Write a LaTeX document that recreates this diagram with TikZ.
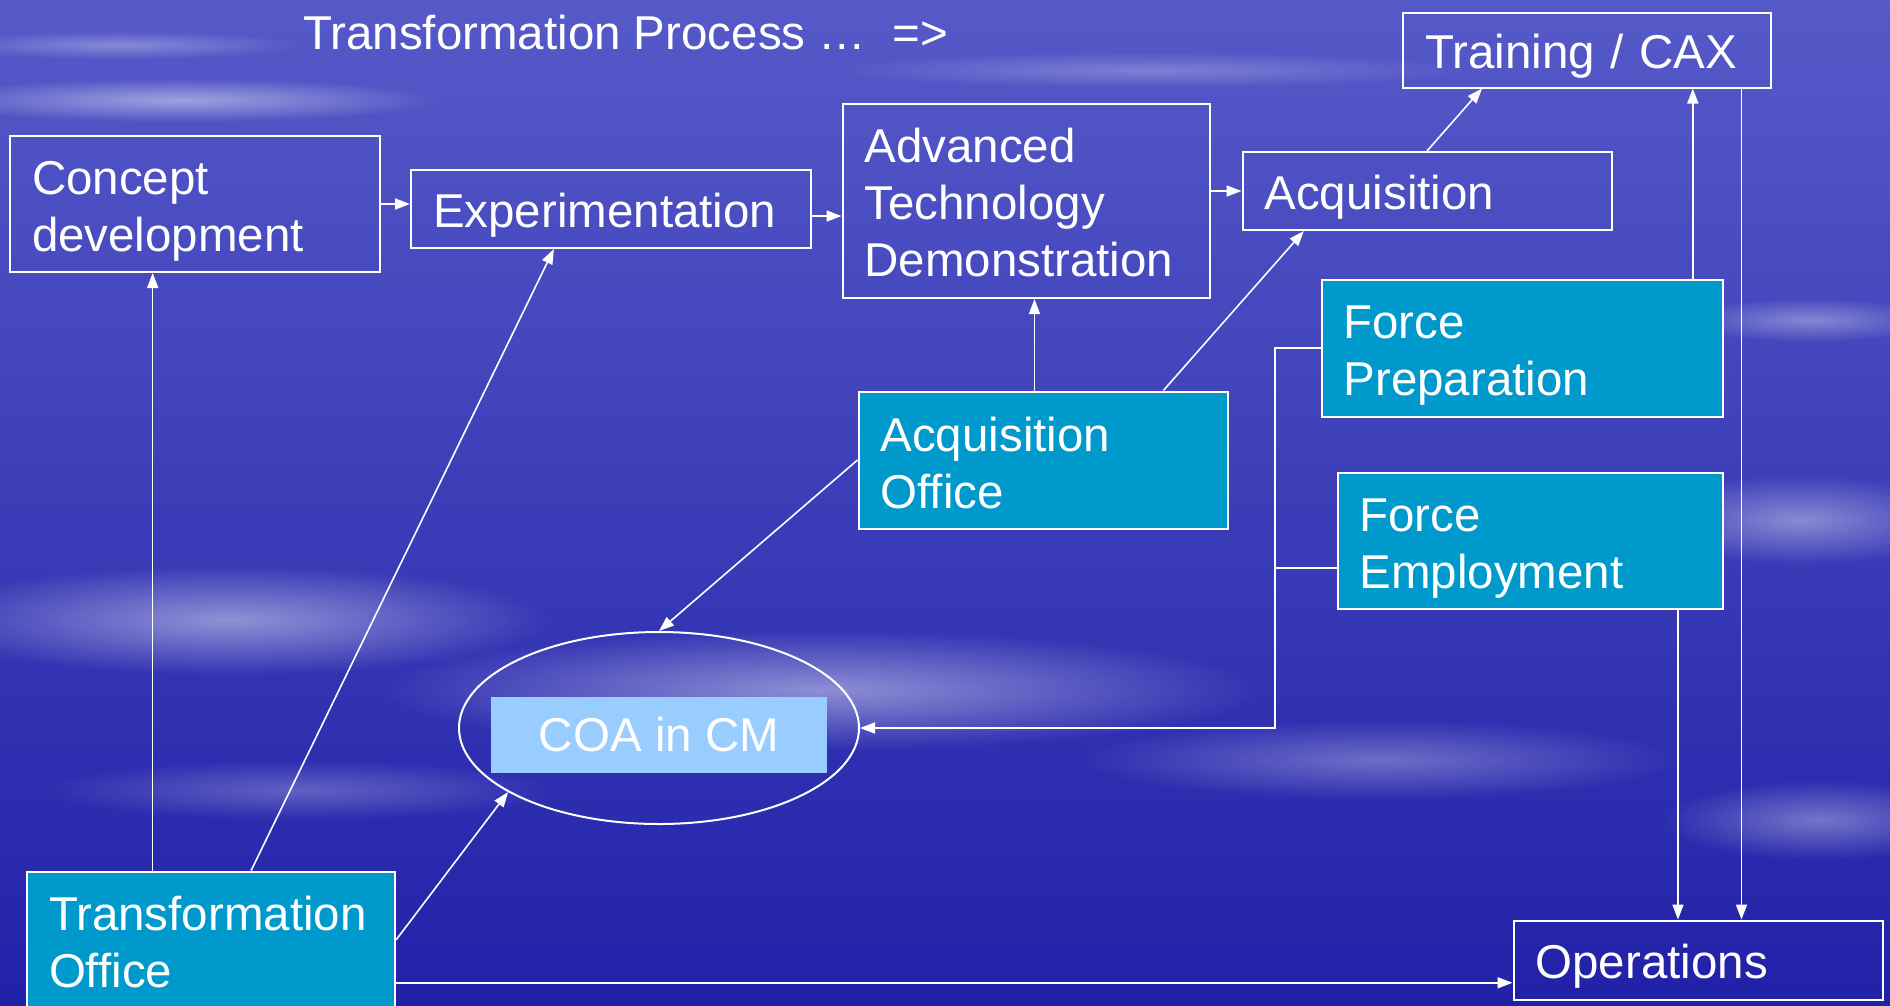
\documentclass[tikz,border=0pt]{standalone}
\usepackage{fontspec}
\setmainfont{Liberation Sans}
\usepackage{xcolor}
\usetikzlibrary{shapes.geometric}
\usetikzlibrary{arrows.meta,calc,fadings}

\definecolor{skytop}{RGB}{86,90,200}
\definecolor{skybottom}{RGB}{33,33,168}
\definecolor{officecyan}{RGB}{0,153,204}
\definecolor{coablue}{RGB}{153,204,255}

\tikzfading[name=softblob, inner color=transparent!0, outer color=transparent!100]

\newcommand{\boxfont}{\fontsize{47.5}{57}\selectfont}

\begin{document}
\begin{tikzpicture} [
       x=1pt, y=-1pt,
       auto,
       box/.style={draw=white, line width=2pt, text=white, align=left,
               inner xsep=22pt, inner ysep=0pt, font=\boxfont,
               text height=47pt},
       office/.style={box, fill=officecyan},
       ring/.style={ellipse, draw=white, line width=2pt, inner sep=0pt},
       coabox/.style={fill=coablue, text=white, font=\boxfont,
               minimum width=336pt, minimum height=76pt},
       cloud/.style={fill=white, path fading=softblob},
        line/.style     = { draw, white, line width=1.6pt,
               -{Triangle[length=15pt,width=11pt]} },
       ]
       % sky
       \useasboundingbox (0,0) rectangle (1890,1005);
       \shade[top color=skytop, bottom color=skybottom] (0,0) rectangle (1890,1005);
       \fill[cloud, opacity=.45] (180,100) ellipse (260 and 22);
       \fill[cloud, opacity=.3] (120,45) ellipse (180 and 14);
       \fill[cloud, opacity=.25] (1150,70) ellipse (320 and 18);
       \fill[cloud, opacity=.35] (1810,320) ellipse (130 and 22);
       \fill[cloud, opacity=.4] (1800,520) ellipse (170 and 45);
       \fill[cloud, opacity=.45] (230,620) ellipse (320 and 55);
       \fill[cloud, opacity=.45] (820,690) ellipse (440 and 60);
       \fill[cloud, opacity=.3] (1380,760) ellipse (300 and 40);
       \fill[cloud, opacity=.35] (1820,820) ellipse (160 and 40);
       \fill[cloud, opacity=.25] (300,790) ellipse (260 and 30);

       \node (title) [anchor=base west, text=white, font=\boxfont, inner sep=0pt]
               at (303,49) {Transformation Process …\ \ =>};

       \node (concept) [box, text width=326pt, minimum height=136pt] at (195,204) {Concept\\development};
       \node (exper) [box, text width=356pt, minimum height=78pt] at (611,209) {Experimentation};
       \node (atd) [box, text width=323pt, minimum height=194pt, text height=37pt] at (1026,201) {Advanced\\Technology\\Demonstration};
       \node (acq) [box, text width=325pt, minimum height=78pt] at (1427,191) {Acquisition};
       \node (training) [box, text width=324pt, minimum height=75pt] at (1587,50) {Training / CAX};
       \node (fprep) [office, text width=357pt, minimum height=137pt] at (1522,348) {Force\\Preparation};
       \node (acqoff) [office, text width=325pt, minimum height=137pt, text height=40pt] at (1043,460) {Acquisition\\Office};
       \node (femp) [office, text width=341pt, minimum height=136pt] at (1530,541) {Force\\Employment};
       \node (coaring) [ring, minimum width=400pt, minimum height=192pt] at (659,728) {};
       \node (coa) [coabox] at ([yshift=-7pt]coaring.center) {COA in CM};
       \node (tro) [office, text width=324pt, minimum height=137pt, text height=39pt] at (211,940) {Transformation\\Office};
       \node (ops) [box, text width=325pt, minimum height=79pt] at (1698,960) {Operations};
       \coordinate (bend) at (1275,728);

        \begin{scope}[every path/.style=line]
        \path (concept.east) -- (concept.east -| exper.west);
        \path (exper.358) -- (exper.358 -| atd.west);
        \path (atd.east |- acq.west) -- (acq.west);
        \path (acq.north) -- ([xshift=80pt]training.south west);
        \path (acqoff.97) -- (acqoff.97 |- atd.south);
        \path (acqoff.30) -- (acq.198);
        \path (acqoff.west) -- (coaring.north);
        \path (training.340 |- fprep.north) -- (training.340);
        \path (training.346) -- (training.346 |- ops.north);
        \path (femp.335) -- (femp.335 |- ops.north);
        \path (fprep.west) -| (bend) -- (coaring.east);
        \path[-] (femp.188) -- (femp.188 -| bend);
        \path (tro.130) -- (tro.130 |- concept.south);
        \path (tro.60) -- (exper.215);
        \path (tro.east) -- (coaring.203);
        \path (ops.187 -| tro.east) -- (ops.187);
\end{scope}
\end{tikzpicture}
\end{document}
